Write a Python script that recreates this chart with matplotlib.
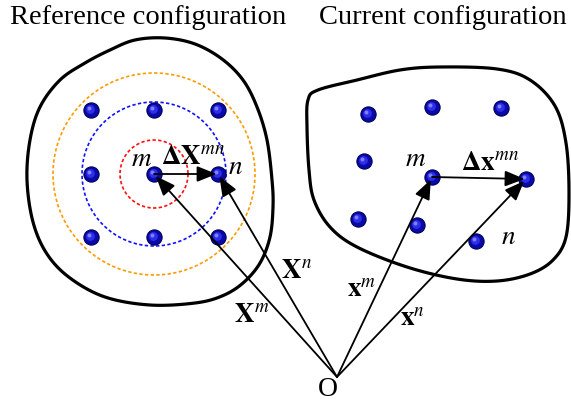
"""Reference vs current configuration sketch (peridynamic bonds)."""

import matplotlib.pyplot as plt
import numpy as np
from matplotlib.patches import Polygon

plt.rcParams["mathtext.fontset"] = "stix"
plt.rcParams["font.family"] = ["Liberation Serif", "DejaVu Serif"]

# outline control points (pixel coords, y down)
left_outline = [
    (135, 40), (165, 38), (195, 44), (222, 59), (243, 80), (257, 107),
    (267, 140), (272, 180), (273, 207), (270, 237), (260, 263), (243, 283),
    (222, 296), (195, 303), (150, 305), (105, 297), (70, 278), (47, 254),
    (33, 222), (27, 180), (30, 140), (40, 107), (60, 80), (85, 63), (110, 50),
]
right_outline = [
    (318, 90), (357, 80), (400, 70), (440, 67), (497, 69), (530, 80),
    (555, 106), (566, 143), (569, 193), (566, 237), (553, 260), (530, 274),
    (497, 281), (457, 279), (407, 267), (357, 247), (330, 227), (314, 200),
    (309, 170), (307, 127), (308, 100),
]

# material points
left_x = [91, 154, 218, 91, 154, 218, 91, 154, 218]
left_y = [110, 110, 110, 174, 174, 174, 237, 237, 237]
right_x = [368, 432, 501, 364, 432, 526, 358, 417, 476]
right_y = [114, 107, 108, 161, 177, 179, 219, 225, 241]

# horizon circles around m (reference)
circle_radii = [34, 72, 101]
circle_colors = ["#ff1010", "#1010ff", "#ff9a00"]

origin = (337, 377)
left_m, left_n = (154, 174), (218, 174)
right_m, right_n = (432, 177), (526, 179)


def closed_spline(points, n=30):
    pts = np.asarray(points, dtype=float)
    count = len(pts)
    t = np.linspace(0.0, 1.0, n, endpoint=False)[:, None]
    segs = []
    for i in range(count):
        p0, p1 = pts[i - 1], pts[i]
        p2, p3 = pts[(i + 1) % count], pts[(i + 2) % count]
        segs.append(
            0.5 * (2 * p1 + (-p0 + p2) * t
                   + (2 * p0 - 5 * p1 + 4 * p2 - p3) * t**2
                   + (-p0 + 3 * p1 - 3 * p2 + p3) * t**3)
        )
    return np.vstack(segs)


def draw_spheres(ax, xs, ys):
    ax.scatter(xs, ys, s=120, color="#0a0aa8", edgecolors="#00005a",
               linewidths=0.8, zorder=4)
    ax.scatter(np.asarray(xs) - 1.5, np.asarray(ys) - 1.5, s=40,
               color="#2e2ee8", linewidths=0, zorder=5)
    ax.scatter(np.asarray(xs) - 2.2, np.asarray(ys) - 2.2, s=8,
               color="#8080ff", linewidths=0, zorder=6)


def arrow(ax, start, end, shrink=2):
    ax.annotate(
        "", xy=end, xytext=start,
        arrowprops=dict(arrowstyle="-|>,head_length=0.75,head_width=0.3",
                        mutation_scale=16, lw=1.3, color="black",
                        shrinkA=0, shrinkB=shrink),
        zorder=7,
    )


fig = plt.figure(figsize=(5.71, 4.03), dpi=100)
ax = fig.add_axes([0, 0, 1, 1])
ax.set_xlim(0, 571)
ax.set_ylim(403, 0)
ax.set_axis_off()

for outline in (left_outline, right_outline):
    ax.add_patch(Polygon(closed_spline(outline), closed=True, fill=False,
                         edgecolor="black", lw=2.3, joinstyle="round", zorder=2))

theta = np.linspace(0, 2 * np.pi, 300)
for radius, color in zip(circle_radii, circle_colors):
    ax.plot(left_m[0] + radius * np.cos(theta), left_m[1] + radius * np.sin(theta),
            color=color, lw=1.2, linestyle=(0, (2.0, 1.4)), zorder=3)

draw_spheres(ax, left_x, left_y)
draw_spheres(ax, right_x, right_y)

for target in (left_m, left_n, right_m, right_n):
    arrow(ax, origin, target)
arrow(ax, left_m, left_n, shrink=1)
arrow(ax, right_m, right_n, shrink=1)

ax.text(148, 18, "Reference configuration", fontsize=20.5, ha="center", va="center")
ax.text(443, 18, "Current configuration", fontsize=20.5, ha="center", va="center")

labels = [
    (142, 160, r"$m$"), (193, 157, r"$\mathbf{\Delta X}^{mn}$"), (235, 168, r"$n$"),
    (297, 272, r"$\mathbf{X}^{n}$"), (252, 315, r"$\mathbf{X}^{m}$"),
    (362, 291, r"$\mathbf{x}^{m}$"), (412, 320, r"$\mathbf{x}^{n}$"),
    (416, 159, r"$m$"), (490, 164, r"$\mathbf{\Delta x}^{mn}$"), (508, 237, r"$n$"),
]
for x, y, text in labels:
    ax.text(x, y, text, fontsize=19.5, ha="center", va="center", zorder=8)
ax.text(328, 390, "O", fontsize=20, ha="center", va="center")

fig.savefig("out.png", dpi=100)
